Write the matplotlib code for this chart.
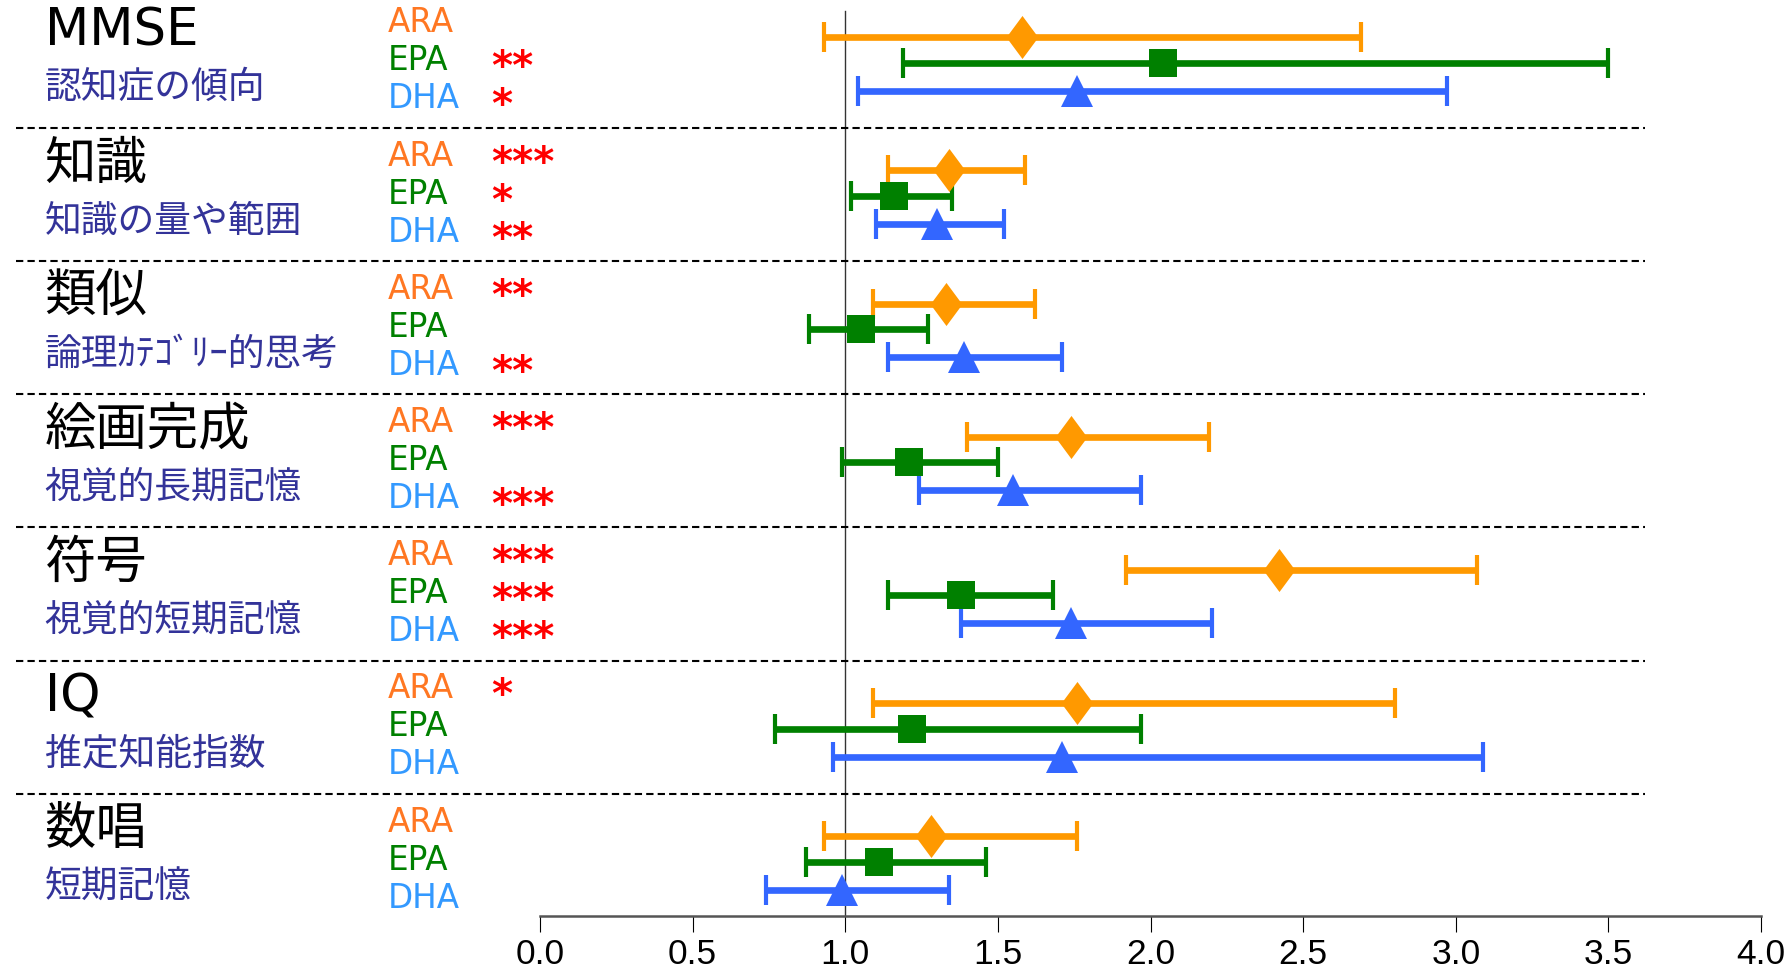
import matplotlib
matplotlib.use("Agg")
import matplotlib.pyplot as plt

plt.rcParams['font.family'] = ['DejaVu Sans', 'Noto Sans CJK JP']

# =========================================================
# データ（オッズ比と95%信頼区間）
# =========================================================
TESTS = ["MMSE", "知識", "類似", "絵画完成", "符号", "IQ", "数唱"]
DESCRIPTIONS = ["認知症の傾向", "知識の量や範囲", "論理ｶﾃｺﾞﾘｰ的思考",
                "視覚的長期記憶", "視覚的短期記憶", "推定知能指数", "短期記憶"]

ARA_MEAN = [1.58, 1.34, 1.33, 1.74, 2.42, 1.76, 1.28]
ARA_LO   = [0.93, 1.14, 1.09, 1.40, 1.92, 1.09, 0.93]
ARA_HI   = [2.69, 1.59, 1.62, 2.19, 3.07, 2.80, 1.76]

EPA_MEAN = [2.04, 1.16, 1.05, 1.21, 1.38, 1.22, 1.11]
EPA_LO   = [1.19, 1.02, 0.88, 0.99, 1.14, 0.77, 0.87]
EPA_HI   = [3.50, 1.35, 1.27, 1.50, 1.68, 1.97, 1.46]

DHA_MEAN = [1.76, 1.30, 1.39, 1.55, 1.74, 1.71, 0.99]
DHA_LO   = [1.04, 1.10, 1.14, 1.24, 1.38, 0.96, 0.74]
DHA_HI   = [2.97, 1.52, 1.71, 1.97, 2.20, 3.09, 1.34]

ARA_SIG = ["", "***", "**", "***", "***", "*", ""]
EPA_SIG = ["**", "*", "", "", "***", "", ""]
DHA_SIG = ["*", "**", "**", "***", "***", "", ""]

XTICKS = [0.0, 0.5, 1.0, 1.5, 2.0, 2.5, 3.0, 3.5, 4.0]

# 縦長のひし形マーカー
DIAMOND = [(0, 1), (0.74, 0), (0, -1), (-0.74, 0), (0, 1)]

SERIES = [
    # name, mean, lo, hi, sig, bar color, label color, marker, size, row offset, label offset
    ("ARA", ARA_MEAN, ARA_LO, ARA_HI, ARA_SIG, "#FF9900", "#FF7722", DIAMOND, 31, -0.19, -0.315),
    ("EPA", EPA_MEAN, EPA_LO, EPA_HI, EPA_SIG, "#008000", "#008000", "s", 19.5, 0.0, -0.03),
    ("DHA", DHA_MEAN, DHA_LO, DHA_HI, DHA_SIG, "#3366FF", "#3399FF", "^", 23, 0.21, 0.255),
]


def main():
    fig = plt.figure(figsize=(17.87, 9.73), dpi=100)
    ax = fig.add_axes([0.3022, 0.0586, 0.6833, 0.9414])
    ax.set_xlim(0, 4)
    ax.set_ylim(6.407, -0.47)

    # --- 基準線 (OR = 1) ---
    ax.plot([1, 1], [-0.385, 6.407], color="#333333", linewidth=1.0, zorder=1)

    # --- 区切りの破線 ---
    for i in range(len(TESTS) - 1):
        ax.plot([-1.716, 3.62], [i + 0.49, i + 0.49], color="black",
                linewidth=1.5, linestyle=(0, (3.5, 2)), clip_on=False, zorder=1)

    for i, (test, desc) in enumerate(zip(TESTS, DESCRIPTIONS)):
        ax.text(-1.623, i - 0.235, test, fontsize=37, color="black",
                ha="left", va="center")
        ax.text(-1.623, i + 0.19, desc, fontsize=26.5, color="#333399",
                ha="left", va="center")

    for name, mean, lo, hi, sig, bcol, lcol, marker, ms, off, loff in SERIES:
        for i in range(len(TESTS)):
            y = i + off
            ax.errorbar(mean[i], y,
                        xerr=[[mean[i] - lo[i]], [hi[i] - mean[i]]],
                        fmt="none", ecolor=bcol, elinewidth=4.8,
                        capsize=11, capthick=3.0, zorder=3)
            ax.plot(mean[i], y, marker=marker, markersize=ms, color=bcol,
                    markeredgewidth=0, linestyle="none", zorder=4)
            ax.annotate(name, xy=(-0.5, i + loff), xytext=(0, -8.5),
                        textcoords="offset points", fontsize=23.5, color=lcol,
                        ha="left", va="baseline", annotation_clip=False)
            if sig[i]:
                ax.annotate(sig[i], xy=(-0.16, i + loff), xytext=(0, -15),
                            textcoords="offset points", fontsize=29,
                            fontweight="bold", color="red",
                            ha="left", va="baseline", annotation_clip=False)

    # --- 軸設定 ---
    for side in ["top", "right", "left"]:
        ax.spines[side].set_visible(False)
    ax.spines["bottom"].set_color("#555555")
    ax.spines["bottom"].set_linewidth(1.8)
    ax.set_yticks([])
    ax.set_xticks(XTICKS)
    ax.set_xticklabels([f"{t:.1f}" for t in XTICKS], family="Liberation Sans")
    ax.tick_params(axis="x", direction="out", length=11.5, width=0.8,
                   labelsize=25.5, pad=4)

    fig.savefig("out.png", dpi=100)


if __name__ == "__main__":
    main()
